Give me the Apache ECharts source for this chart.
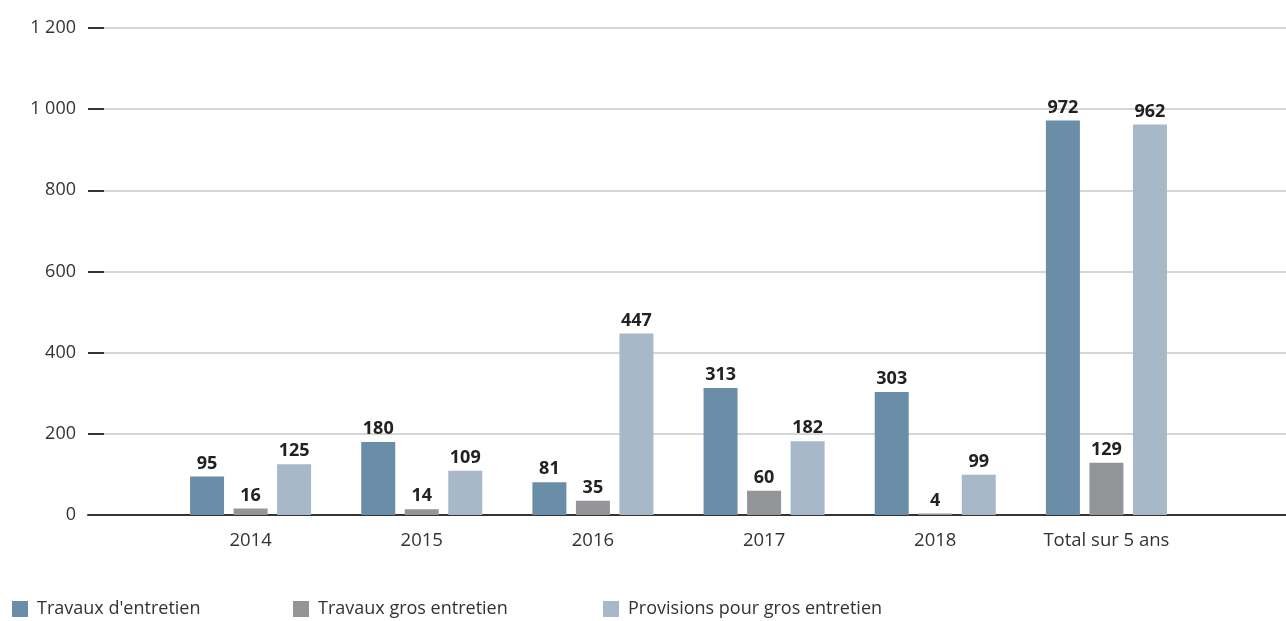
<!DOCTYPE html>
<html><head><meta charset="utf-8">
<script src="https://cdn.jsdelivr.net/npm/echarts@6/dist/echarts.min.js"></script>
<style>html,body{margin:0;padding:0;background:#fff}#c{width:1286px;height:621px}</style>
</head><body><div id="c"></div>
<script>
var categories = ['2014', '2015', '2016', '2017', '2018', 'Total sur 5 ans'];
var seriesNames = ["Travaux d'entretien", 'Travaux gros entretien', 'Provisions pour gros entretien'];
var entretien = [95, 180, 81, 313, 303, 972];
var grosEntretien = [16, 14, 35, 60, 4, 129];
var provisions = [125, 109, 447, 182, 99, 962];
var yTicks = [0, 200, 400, 600, 800, 1000, 1200];

var colors = ['#6a8ea8', '#939598', '#a7b8c9'];
var FONT = "'Open Sans', 'Noto Sans', sans-serif";
var fmt = function (v) { return String(v).replace(/\B(?=(\d{3})+(?!\d))/g, ' '); };

var chart = echarts.init(document.getElementById('c'));
var gridTop = 28, gridBottom = 106;
var labelStyle = { show: true, position: 'top', distance: 4, color: '#222', fontFamily: FONT, fontWeight: 'bold', fontSize: 18 };
function bar(name, data, color) {
  return { name: name, type: 'bar', xAxisIndex: 1, yAxisIndex: 1, data: data, barWidth: 34, barGap: '28%',
    itemStyle: { color: color }, label: labelStyle };
}
chart.setOption({
  animation: false,
  textStyle: { fontFamily: FONT },
  grid: [
    { left: 88, right: 0, top: gridTop, bottom: gridBottom },
    { left: 165, right: 94, top: gridTop, bottom: gridBottom }
  ],
  xAxis: [
    { gridIndex: 0, type: 'value', min: 0, max: 1, axisLabel: { show: false }, axisTick: { show: false }, splitLine: { show: false },
      axisLine: { show: true, lineStyle: { color: '#333', width: 2 } } },
    { gridIndex: 1, type: 'category', data: categories, axisLine: { show: false }, axisTick: { show: false },
      axisLabel: { color: '#333', fontSize: 18.5, fontFamily: FONT, margin: 16 } }
  ],
  yAxis: [
    { gridIndex: 0, type: 'value', min: yTicks[0], max: yTicks[yTicks.length - 1], interval: 200,
      axisLine: { show: false },
      axisTick: { show: true, inside: true, length: 16, lineStyle: { color: '#333', width: 2 } },
      axisLabel: { color: '#333', fontSize: 18, fontFamily: FONT, margin: 12, formatter: fmt },
      splitLine: { show: true, lineStyle: { color: '#c8c8c8', width: 1.5 } } },
    { gridIndex: 1, type: 'value', min: yTicks[0], max: yTicks[yTicks.length - 1], interval: 200, show: false }
  ],
  legend: [
    { data: [seriesNames[0]], left: 10, top: 598 },
    { data: [seriesNames[1]], left: 291, top: 598 },
    { data: [seriesNames[2]], left: 601, top: 598 }
  ].map(function (l) {
    l.icon = 'rect'; l.itemWidth = 16; l.itemHeight = 16; l.itemGap = 0; l.padding = 2;
    l.textStyle = { color: '#333', fontSize: 18, fontFamily: FONT, padding: [0, 0, 0, 4] };
    return l;
  }),
  series: [
    bar(seriesNames[0], entretien, colors[0]),
    bar(seriesNames[1], grosEntretien, colors[1]),
    bar(seriesNames[2], provisions, colors[2])
  ]
});
</script></body></html>
